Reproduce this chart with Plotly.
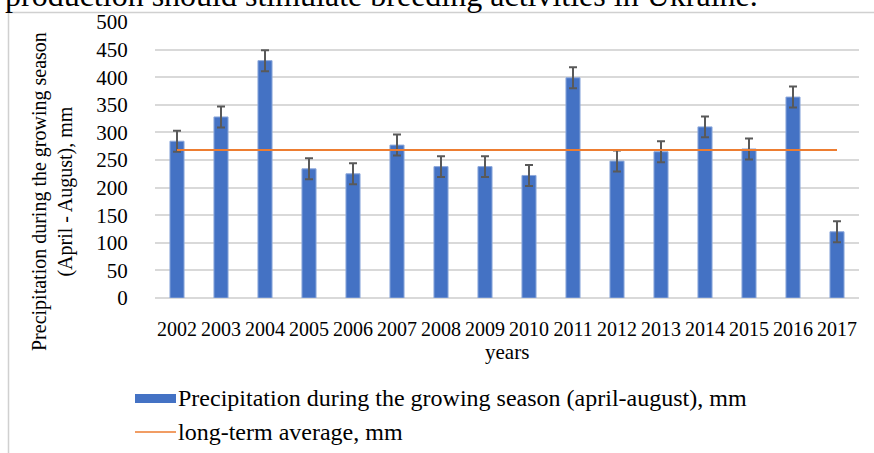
import plotly.graph_objects as go

years = ["2002", "2003", "2004", "2005", "2006", "2007", "2008", "2009",
         "2010", "2011", "2012", "2013", "2014", "2015", "2016", "2017"]
precip = [284, 328, 430, 234, 225, 277, 238, 238, 222, 399, 248, 265, 310, 270, 364, 120]
err = [19, 19, 19, 19, 19, 19, 19, 19, 19, 19, 19, 19, 19, 19, 19, 19]
long_term = [268] * len(years)

FONT = "Liberation Serif, Times New Roman, serif"
W, H = 874, 453
# plot area in page pixels: x 155..859, y 22..298
PL, PR, PT, PB = 155, 859, 22, 298
L, R, T, B = PL, W - PR, PT, H - PB
pw, ph = PR - PL, PB - PT

def px(x):  # page x -> paper
    return (x - PL) / pw

def py(y):  # page y -> paper
    return (PB - y) / ph

fig = go.Figure()
fig.add_trace(go.Bar(
    x=years, y=precip,
    marker=dict(color="#4472C4", line=dict(color="#8EA9DB", width=1)),
    width=0.32,
    error_y=dict(type="data", array=err, visible=True, color="#595959",
                 thickness=2, width=4),
    showlegend=False,
))
fig.add_trace(go.Scatter(
    x=years, y=long_term, mode="lines",
    line=dict(color="#ED7D31", width=2),
    showlegend=False,
))

shapes = [
    dict(type="line", xref="paper", yref="paper", x0=px(8.5), x1=px(874), y0=py(12.5), y1=py(12.5),
         line=dict(color="#d0d0d0", width=1.5)),
    dict(type="line", xref="paper", yref="paper", x0=px(8.5), x1=px(8.5), y0=py(12.5), y1=py(453),
         line=dict(color="#d0d0d0", width=1.5)),
    # legend swatches
    dict(type="rect", xref="paper", yref="paper", x0=px(135), x1=px(176), y0=py(403), y1=py(394),
         fillcolor="#4472C4", line=dict(width=0)),
    dict(type="line", xref="paper", yref="paper", x0=px(135), x1=px(176), y0=py(432), y1=py(432),
         line=dict(color="#ED7D31", width=1.5)),
]

annotations = [
    dict(text="production should stimulate breeding activities in Ukraine.",
         xref="paper", yref="paper", x=px(3), y=py(15), xanchor="left", yanchor="bottom",
         showarrow=False, font=dict(family=FONT, size=32, color="black")),
    dict(text="Precipitation during the growing season<br>(April - August), mm",
         xref="paper", yref="paper", x=px(52), y=py(192), xanchor="center", yanchor="middle",
         textangle=-90, showarrow=False, font=dict(family=FONT, size=20, color="black")),
    dict(text="years", xref="paper", yref="paper", x=px(507), y=py(352),
         xanchor="center", yanchor="middle", showarrow=False,
         font=dict(family=FONT, size=21, color="black")),
    dict(text="Precipitation during the growing season (april-august), mm",
         xref="paper", yref="paper", x=px(176), y=py(398), xanchor="left", yanchor="middle",
         showarrow=False, font=dict(family=FONT, size=24, color="black")),
    dict(text="long-term average, mm",
         xref="paper", yref="paper", x=px(176), y=py(432), xanchor="left", yanchor="middle",
         showarrow=False, font=dict(family=FONT, size=24, color="black")),
]

fig.update_layout(
    width=W, height=H,
    margin=dict(l=L, r=R, t=T, b=B, pad=0, autoexpand=False),
    paper_bgcolor="white", plot_bgcolor="white",
    font=dict(family=FONT, size=19, color="black"),
    shapes=shapes, annotations=annotations,
)
fig.update_xaxes(
    type="category", showgrid=False, showline=False, zeroline=False,
    ticks="outside", ticklen=13, tickcolor="rgba(0,0,0,0)",
    tickfont=dict(family=FONT, size=20, color="black"),
)
fig.update_yaxes(
    range=[0, 500], dtick=50, showgrid=True, gridcolor="#d9d9d9", gridwidth=1.5,
    zeroline=True, zerolinecolor="#d9d9d9", zerolinewidth=1.5, showline=False,
    ticks="outside", ticklen=22, tickcolor="rgba(0,0,0,0)",
    tickfont=dict(family=FONT, size=21, color="black"),
)

fig.write_html("out.html", config={"displayModeBar": False},
               post_script="document.body.style.margin='0';document.body.style.overflow='hidden';")
